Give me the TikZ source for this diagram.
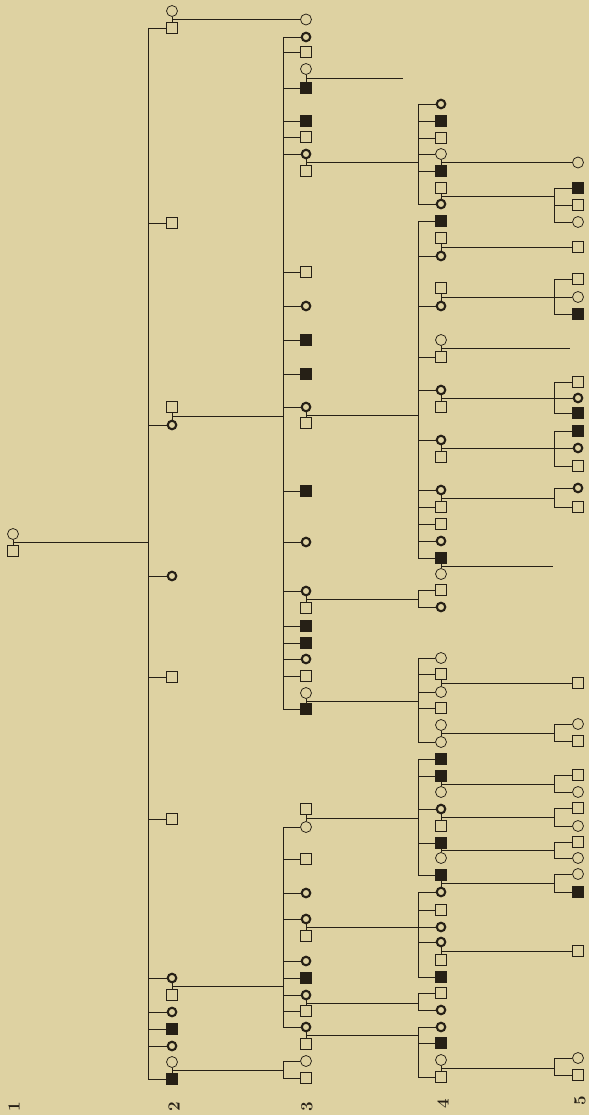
\documentclass[tikz,border=0pt]{standalone}
\usetikzlibrary{calc}

\definecolor{paper}{RGB}{222,210,162}
\definecolor{ink}{RGB}{38,32,22}

\begin{document}
\begin{tikzpicture}[
  x=1pt, y=-1pt,
  ink, line width=0.75pt,
  sym/.style={draw=ink, fill=paper, inner sep=0pt, line width=0.75pt},
  male/.style={sym, rectangle, minimum size=11pt},
  affm/.style={sym, rectangle, minimum size=11pt, fill=ink},
  fem/.style={sym, circle, minimum size=11pt},
  femb/.style={sym, circle, minimum size=8.5pt, line width=2.1pt},
  gen/.style={rotate=90, font=\fontsize{17}{17}\selectfont\bfseries}
]

  \fill[paper] (0,0) rectangle (589,1115);
  \useasboundingbox (0,0) rectangle (589,1115);

  % Sibship bars and loose line ends
  \coordinate (x2) at (148,0);
  \coordinate (x3) at (283,0);
  \coordinate (x4) at (418,0);
  \coordinate (x5) at (554,0);
  \coordinate (t1) at (403,0);
  \coordinate (t2) at (570,0);
  \coordinate (t3) at (553,0);

  % Generation labels
  \node[gen] (g1) at (14,1107)  {1};
  \node[gen] (g2) at (174,1107) {2};
  \node[gen] (g3) at (307,1107) {3};
  \node[gen] (g4) at (443,1104) {4};
  \node[gen] (g5) at (580,1101) {5};

  % Generation 1
  \node[fem]  (r1) at (13,534) {};
  \node[male] (r2) at (13,551) {};

  % Generation 2
  \foreach \n/\s/\y in {a1/fem/11, a2/male/28, a3/male/223, a4/male/407,
      a5/femb/425, a6/femb/576, a7/male/677, a8/male/819, a9/femb/978,
      a10/male/995, a11/femb/1012, a12/affm/1029, a13/femb/1046,
      a14/fem/1062, a15/affm/1079}
    \node[\s] (\n) at (172,\y) {};

  % Generation 3
  \foreach \n/\s/\y in {b0/fem/19.5, b1/femb/37, b2/male/52, b3/fem/69,
      b4/affm/88, b5/affm/121, b6/male/137, b7/femb/154, b8/male/171,
      b9/male/272, b10/femb/306, b11/affm/340, b12/affm/374, b13/femb/407,
      b14/male/423, b15/affm/491, b16/femb/542, b17/femb/591, b18/male/608,
      b19/affm/626, b20/affm/643, b21/femb/659, b22/male/676, b23/fem/693,
      b24/affm/709, c1/male/809, c2/fem/827, c3/male/859, c4/femb/893,
      c5/femb/919, c6/male/936, c7/femb/961, c8/affm/978, c9/femb/995,
      c10/male/1011, c11/femb/1027, c12/male/1044, d1/fem/1061,
      d2/male/1078}
    \node[\s] (\n) at (306,\y) {};

  % Generation 4
  \foreach \n/\s/\y in {A1/femb/104, A2/affm/121, A3/male/138, A4/fem/154,
      A5/affm/171, A6/male/188, A7/femb/204, B1/affm/221, B2/male/238,
      B3/femb/256, B4/male/288, B5/femb/306, B6/fem/340, B7/male/357,
      B8/femb/390, B9/male/407, B10/femb/440, B11/male/457, B12/femb/490,
      B13/male/507, B14/male/524, B15/femb/541, B16/affm/558, B17/fem/574,
      C1/male/590, C2/femb/607, D1/fem/658, D2/male/674, D3/fem/692,
      D4/male/708, D5/fem/725, D6/fem/742, E1/affm/759, E2/affm/776,
      E3/fem/792, E4/femb/809, E5/male/826, E6/affm/843, E7/fem/858,
      E8/affm/875, F1/femb/892, F2/male/910, F3/femb/927, F4/femb/942,
      F5/male/960, F6/affm/977, G1/male/993, G2/femb/1010, H1/femb/1027,
      H2/affm/1043, H3/fem/1060, H4/male/1077}
    \node[\s] (\n) at (441,\y) {};

  % Generation 5
  \foreach \n/\s/\y in {e1/fem/162.5, e2/affm/188, e3/male/205, e4/fem/222,
      e5/male/247, e6/male/279, e7/fem/297, e8/affm/314, e9/male/382,
      e10/femb/398, e11/affm/413, e12/affm/431, e13/femb/448, e14/male/466,
      e15/femb/488, e16/male/507, e17/male/683, e18/fem/724, e19/male/741,
      e20/male/775, e21/fem/792, e22/male/808, e23/fem/826, e24/male/842,
      e25/fem/858, e26/fem/874, e27/affm/892, e28/male/951, e29/fem/1058,
      e30/male/1075}
    \node[\s] (\n) at (578,\y) {};

  % Couples: short tie and the point their line leaves from
  \foreach \p/\q/\m in {r1/r2/mr, a1/a2/ma1, a4/a5/ma4, a9/a10/ma9,
      a14/a15/ma14, b3/b4/mb3, b7/b8/mb7, b13/b14/mb13, b17/b18/mb17,
      b23/b24/mb23, c1/c2/mc1, c5/c6/mc5, c9/c10/mc9, c11/c12/mc11,
      A4/A5/mA4, A6/A7/mA6, B2/B3/mB2, B4/B5/mB4, B6/B7/mB6, B8/B9/mB8,
      B10/B11/mB10, B12/B13/mB12, B16/B17/mB16, D2/D3/mD2, D5/D6/mD5,
      E2/E3/mE2, E4/E5/mE4, E6/E7/mE6, E8/F1/mE8, F4/F5/mF4, H3/H4/mH3}
  {
    \draw (\p) -- (\q);
    \coordinate (\m) at ($(\p)!.5!(\q)$);
  }

  % Lines to a sibship bar or to a loose end
  \foreach \m/\t in {mr/x2, ma4/x3, ma9/x3, ma14/x3, mb3/t1, mb7/x4,
      mb13/x4, mb17/x4, mb23/x4, mc1/x4, mc5/x4, mc9/x4, mc11/x4,
      mA6/x5, mB4/x5, mB6/t2, mB8/x5, mB10/x5, mB12/x5, mB16/t3,
      mD5/x5, mE2/x5, mE4/x5, mE6/x5, mE8/x5, mH3/x5}
    \draw (\m) -- (\m -| \t);

  % Lines to an only child
  \foreach \m/\c in {ma1/b0, mA4/e1, mB2/e5, mD2/e17, mF4/e28}
    \draw (\m) -- (\c);

  % Sibship bars
  \draw (a2 -| x2) -- (a15 -| x2);
  \draw (b1 -| x3) -- (b24 -| x3);
  \draw (c2 -| x3) -- (c11 -| x3);
  \draw (d1 -| x3) -- (d2 -| x3);
  \foreach \p/\q in {A1/A7, B1/B16, C1/C2, D1/D6, E1/E8, F1/F6, G1/G2,
      H1/H4}
    \draw (\p -| x4) -- (\q -| x4);
  \foreach \p/\q in {e2/e4, e6/e8, e9/e11, e12/e14, e15/e16, e18/e19,
      e20/e21, e22/e23, e24/e25, e26/e27, e29/e30}
    \draw (\p -| x5) -- (\q -| x5);

  % Children hung on the bars
  \foreach \n in {a2,a3,a5,a6,a7,a8,a9,a11,a12,a13,a15}
    \draw (\n) -- (\n -| x2);
  \foreach \n in {b1,b2,b4,b5,b6,b7,b9,b10,b11,b12,b13,b15,b16,b17,b19,
      b20,b21,b22,b24,c2,c3,c4,c5,c7,c8,c9,c10,c11,d1,d2}
    \draw (\n) -- (\n -| x3);
  \foreach \n in {A1,A2,A3,A4,A5,A7,B1,B3,B5,B7,B8,B10,B12,B13,B14,B15,
      B16,C1,C2,D1,D2,D3,D4,D6,E1,E2,E4,E6,E8,F1,F2,F3,F4,F6,G1,G2,H1,
      H2,H4}
    \draw (\n) -- (\n -| x4);
  \foreach \n in {e2,e3,e4,e6,e7,e8,e9,e10,e11,e12,e13,e14,e15,e16,e18,
      e19,e20,e21,e22,e23,e24,e25,e26,e27,e29,e30}
    \draw (\n) -- (\n -| x5);

\end{tikzpicture}
\end{document}
